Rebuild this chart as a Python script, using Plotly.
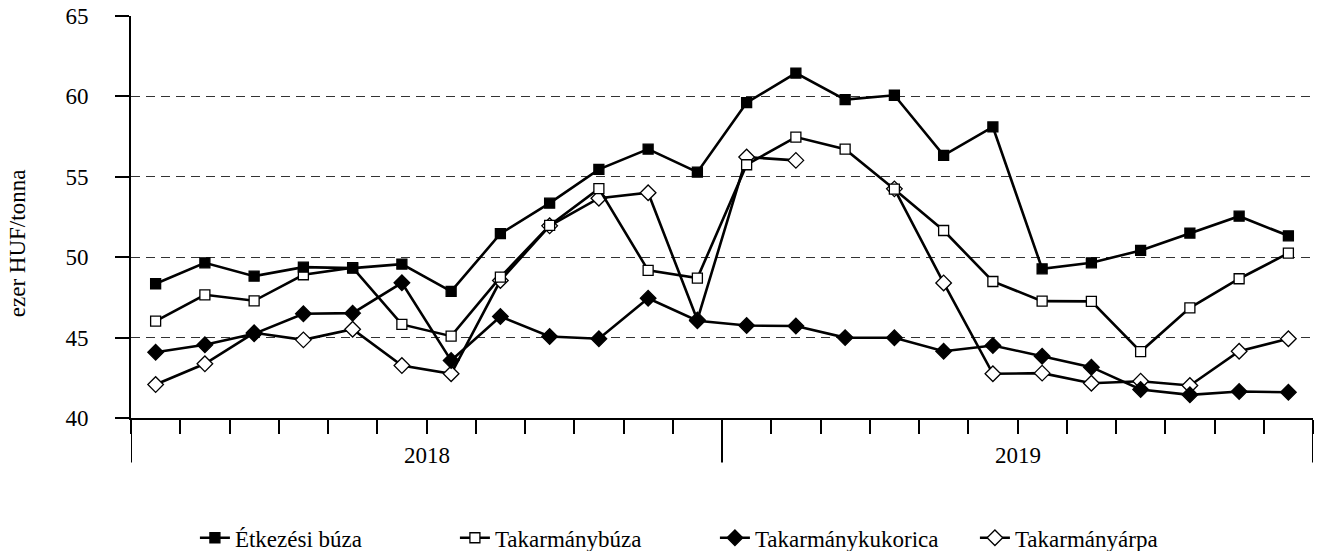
import plotly.graph_objects as go

# --- adatok (ezer HUF/tonna) ---
months = [
    "2018.01", "2018.02", "2018.03", "2018.04", "2018.05", "2018.06",
    "2018.07", "2018.08", "2018.09", "2018.10", "2018.11", "2018.12",
    "2019.01", "2019.02", "2019.03", "2019.04", "2019.05", "2019.06",
    "2019.07", "2019.08", "2019.09", "2019.10", "2019.11", "2019.12",
]
years = ["2018", "2019"]

etkezesi_buza = [48.35, 49.65, 48.82, 49.38, 49.32, 49.57, 47.87, 51.46, 53.36, 55.46, 56.72, 55.29,
                 59.61, 61.45, 59.80, 60.07, 56.33, 58.10, 49.28, 49.65, 50.42, 51.50, 52.55, 51.33]
takarmanybuza = [46.02, 47.66, 47.29, 48.91, 49.35, 45.82, 45.09, 48.76, 51.98, 54.26, 49.18, 48.70,
                 55.75, 57.47, 56.72, 54.23, 51.66, 48.49, 47.27, 47.25, 44.13, 46.85, 48.66, 50.25]
takarmanykukorica = [44.09, 44.55, 45.24, 46.48, 46.52, 48.41, 43.57, 46.31, 45.07, 44.93, 47.45, 46.05,
                     45.75, 45.72, 45.00, 44.99, 44.15, 44.51, 43.84, 43.16, 41.77, 41.44, 41.65, 41.60]
takarmanyarpa = [42.08, 43.37, 45.30, 44.86, 45.52, 43.26, 42.75, 48.55, 51.95, 53.67, 54.01, 46.10,
                 56.23, 56.02, None, 54.25, 48.40, 42.75, 42.79, 42.16, 42.29, 42.02, 44.15, 44.93]

FONT = dict(family="Liberation Serif", size=23, color="black")

# rajzolási sorrend: árpa alul, étkezési búza felül; a jelmagyarázat sorrendje legendrank-kal
series = [
    ("Takarmányárpa", takarmanyarpa, "diamond", "white", 4),
    ("Takarmánykukorica", takarmanykukorica, "diamond", "black", 3),
    ("Takarmánybúza", takarmanybuza, "square", "white", 2),
    ("Étkezési búza", etkezesi_buza, "square", "black", 1),
]

fig = go.Figure()
for name, values, symbol, fill, rank in series:
    fig.add_trace(
        go.Scatter(
            x=months,
            y=values,
            name=name,
            mode="lines+markers",
            connectgaps=False,
            legendrank=rank,
            line=dict(color="black", width=2.6),
            marker=dict(
                symbol=symbol,
                size=12 if symbol == "diamond" else 10,
                color=fill,
                line=dict(color="black", width=1.3),
            ),
        )
    )

# évhatárok (hosszú osztásjelek) és évcímkék
n_per_year = len(months) // len(years)
for i in range(len(years) + 1):
    fig.add_shape(
        type="line", xref="x", yref="paper",
        x0=i * n_per_year - 0.5, x1=i * n_per_year - 0.5, y0=0, y1=-0.111,
        line=dict(color="black", width=2),
    )
for i, yr in enumerate(years):
    fig.add_annotation(
        x=i * n_per_year + (n_per_year - 1) / 2, xref="x",
        y=-0.093, yref="paper", yanchor="middle",
        text=yr, showarrow=False, font=FONT,
    )

fig.add_annotation(
    x=-0.0964, xref="paper", y=0.435, yref="paper",
    text="ezer HUF/tonna", textangle=-90, showarrow=False,
    xanchor="center", yanchor="middle", font=FONT,
)

fig.update_xaxes(
    type="category",
    range=[-0.5, len(months) - 0.5],
    showticklabels=False,
    tickson="boundaries",
    ticks="outside",
    ticklen=14,
    tickwidth=2,
    tickcolor="black",
    showline=True,
    linewidth=2,
    linecolor="black",
    showgrid=False,
    zeroline=False,
    automargin=False,
)
fig.update_yaxes(
    range=[40, 65],
    dtick=5,
    ticks="outside",
    ticklen=14,
    tickwidth=2,
    tickcolor="black",
    ticklabelstandoff=22,
    showline=True,
    linewidth=2,
    linecolor="black",
    showgrid=True,
    gridcolor="#333333",
    gridwidth=1,
    griddash="9px,6px",
    zeroline=False,
    tickfont=FONT,
    automargin=False,
)

fig.update_layout(
    width=1317,
    height=551,
    margin=dict(l=131, r=4, t=16, b=133, autoexpand=False),
    plot_bgcolor="white",
    paper_bgcolor="white",
    font=FONT,
    legend=dict(
        orientation="h",
        xref="container", x=0.148, xanchor="left",
        yref="container", y=0.024, yanchor="middle",
        entrywidth=215,
        font=FONT,
    ),
)

# a böngésző alapértelmezett 8px-es margója nélkül, eszköztár nélkül
fig.write_html(
    "out.html",
    config={"displayModeBar": False},
    post_script="document.body.style.margin='0';",
)
